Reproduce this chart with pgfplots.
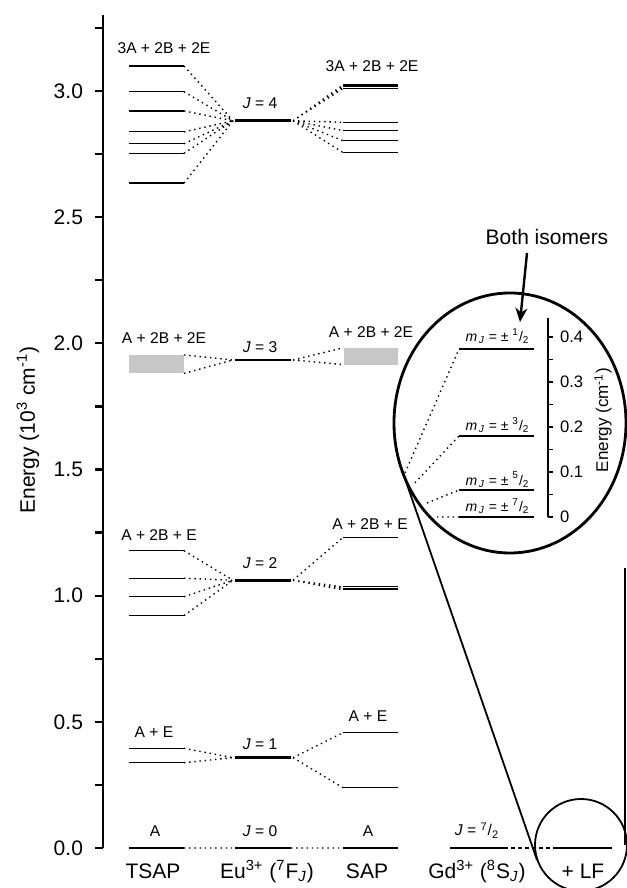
\documentclass[border=0pt]{standalone}
\usepackage{fontspec}
\setmainfont{Liberation Sans}
\usepackage{pgfplots}
\pgfplotsset{compat=1.18}
\usetikzlibrary{arrows.meta}

\pgfplotsset{
  lev/.style={black, line width=0.6pt},
  levthick/.style={black, line width=1.3pt},
  con/.style={black, line width=0.7pt, dash pattern=on 0.7pt off 1.9pt},
}
\newcommand{\lab}{\fontsize{7.8}{9}\selectfont}
\newcommand{\bigf}{\fontsize{10.5}{12}\selectfont}

\begin{document}
\begin{tikzpicture}
\begin{axis}[
  at={(0,0)}, anchor=south west,
  scale only axis, width=261.5pt, height=416.35pt,
  xmin=103, xmax=626, ymin=0, ymax=3.3,
  axis x line=none, axis y line*=left,
  axis line style={line width=1.4pt},
  xtick=\empty,
  ytick={0,0.5,1,1.5,2,2.5,3},
  minor ytick={0.25,0.75,1.25,1.75,2.25,2.75,3.25},
  tick align=outside,
  major tick length=4pt, minor tick length=4pt,
  tick style={line width=1.1pt, black},
  y tick label style={font=\bigf, xshift=-2.5pt},
  yticklabel style={/pgf/number format/fixed, /pgf/number format/fixed zerofill,
    /pgf/number format/precision=1, /pgf/number format/assume math mode=true},
  clip=false,
  unbounded coords=jump,
]
% grey bands (J = 3)
\addplot[fill=black!22, draw=none] coordinates {(129,1.881) (184,1.881) (184,1.954) (129,1.954)} -- cycle;
\addplot[fill=black!22, draw=none] coordinates {(344,1.916) (398,1.916) (398,1.982) (344,1.982)} -- cycle;

% thin crystal-field levels
\addplot[lev] coordinates {
 (129,3.099)(184,3.099) (nan,nan) (129,2.997)(184,2.997) (nan,nan)
 (129,2.921)(184,2.921) (nan,nan) (129,2.838)(184,2.838) (nan,nan)
 (129,2.791)(184,2.791) (nan,nan) (129,2.753)(184,2.753) (nan,nan)
 (129,2.635)(184,2.635) (nan,nan)
 (343,3.024)(398,3.024) (nan,nan) (343,3.017)(398,3.017) (nan,nan)
 (343,3.010)(398,3.010) (nan,nan) (343,2.876)(398,2.876) (nan,nan)
 (343,2.843)(398,2.843) (nan,nan) (343,2.803)(398,2.803) (nan,nan)
 (343,2.756)(398,2.756) (nan,nan)
 (129,1.178)(184,1.178) (nan,nan) (129,1.069)(184,1.069) (nan,nan)
 (129,0.996)(184,0.996) (nan,nan) (129,0.921)(184,0.921) (nan,nan)
 (343,1.231)(398,1.231) (nan,nan) (343,1.035)(398,1.035) (nan,nan)
 (343,1.029)(398,1.029) (nan,nan) (343,1.023)(398,1.023) (nan,nan)
 (129,0.395)(184,0.395) (nan,nan) (129,0.338)(184,0.338) (nan,nan)
 (343,0.457)(398,0.457) (nan,nan) (343,0.239)(398,0.239)
};

% free-ion levels and J = 0
\addplot[levthick] coordinates {
 (235,2.882)(291,2.882) (nan,nan) (235,1.934)(291,1.934) (nan,nan)
 (235,1.061)(291,1.061) (nan,nan) (235,0.358)(291,0.358) (nan,nan)
 (235,0)(291,0) (nan,nan) (129,0)(184,0) (nan,nan) (343,0)(398,0) (nan,nan)
 (450,0)(504,0) (nan,nan) (557,0)(612,0)
};

% dotted correlation lines
\addplot[con] coordinates {
 (184,3.099)(233,2.882) (nan,nan) (184,2.997)(233,2.882) (nan,nan)
 (184,2.921)(233,2.882) (nan,nan) (184,2.838)(233,2.882) (nan,nan)
 (184,2.791)(233,2.882) (nan,nan) (184,2.753)(233,2.882) (nan,nan)
 (184,2.635)(233,2.882) (nan,nan)
 (293,2.882)(343,3.024) (nan,nan) (293,2.882)(343,3.017) (nan,nan)
 (293,2.882)(343,3.010) (nan,nan) (293,2.882)(343,2.876) (nan,nan)
 (293,2.882)(343,2.843) (nan,nan) (293,2.882)(343,2.803) (nan,nan)
 (293,2.882)(343,2.756) (nan,nan)
 (184,1.954)(233,1.934) (nan,nan) (184,1.881)(233,1.934) (nan,nan)
 (293,1.934)(343,1.982) (nan,nan) (293,1.934)(343,1.916) (nan,nan)
 (184,1.178)(233,1.061) (nan,nan) (184,1.069)(233,1.061) (nan,nan)
 (184,0.996)(233,1.061) (nan,nan) (184,0.921)(233,1.061) (nan,nan)
 (293,1.061)(343,1.231) (nan,nan) (293,1.061)(343,1.035) (nan,nan)
 (293,1.061)(343,1.029) (nan,nan) (293,1.061)(343,1.023) (nan,nan)
 (184,0.395)(233,0.358) (nan,nan) (184,0.338)(233,0.358) (nan,nan)
 (293,0.358)(343,0.457) (nan,nan) (293,0.358)(343,0.239) (nan,nan)
 (184,0)(235,0) (nan,nan) (291,0)(343,0)
};
\addplot[black, line width=0.7pt, dash pattern=on 2pt off 1.5pt] coordinates {(504,0)(557,0)};

% level labels
\begin{scope}[every node/.style={anchor=base, font=\lab}]
\node at (axis cs:164,3.149) {3A + 2B + 2E};
\node at (axis cs:260,2.931) {\textit{J} = 4};
\node at (axis cs:372,3.077) {3A + 2B + 2E};
\node at (axis cs:164,2.000) {A + 2B + 2E};
\node at (axis cs:260,1.963) {\textit{J} = 3};
\node at (axis cs:371,2.024) {A + 2B + 2E};
\node at (axis cs:159,1.218) {A + 2B + E};
\node at (axis cs:260,1.108) {\textit{J} = 2};
\node at (axis cs:370,1.264) {A + 2B + E};
\node at (axis cs:154,0.437) {A + E};
\node at (axis cs:260,0.391) {\textit{J} = 1};
\node at (axis cs:368,0.503) {A + E};
\node at (axis cs:155,0.045) {A};
\node at (axis cs:260,0.045) {\textit{J} = 0};
\node at (axis cs:368,0.045) {A};
\node at (axis cs:477,0.048) {\textit{J} = \textsuperscript{7}/\textsubscript{2}};
\end{scope}

% column names
\begin{scope}[every node/.style={anchor=base, font=\bigf}]
\node at (axis cs:153,-0.119) {TSAP};
\node at (axis cs:267,-0.119) {Eu\textsuperscript{3+} (\textsuperscript{7}F\textsubscript{\textit{J}})};
\node at (axis cs:367,-0.119) {SAP};
\node at (axis cs:477,-0.119) {Gd\textsuperscript{3+} (\textsuperscript{8}S\textsubscript{\textit{J}})};
\node at (axis cs:583,-0.119) {+ LF};
\end{scope}
\node[rotate=90, font=\bigf] at (axis description cs:-0.1434,0.502) {Energy (10\textsuperscript{3} cm\textsuperscript{-1})};
\end{axis}

% inset: Gd3+ ground-state splitting
\begin{axis}[
  at={(146pt,165.5pt)}, anchor=south west,
  scale only axis, width=76.5pt, height=99.5pt,
  xmin=395, xmax=548, ymin=0, ymax=0.442,
  axis x line=none, axis y line*=right,
  axis line style={line width=0.7pt},
  xtick=\empty,
  ytick={0,0.1,0.2,0.3,0.4},
  minor ytick={0.05,0.15,0.25,0.35},
  tick align=outside,
  major tick length=2.5pt, minor tick length=2.5pt,
  tick style={line width=0.6pt, black},
  y tick label style={font=\fontsize{8.3}{9}\selectfont},
  yticklabel style={/pgf/number format/assume math mode=true},
  clip=false,
  unbounded coords=jump,
]
\addplot[lev] coordinates {(459,0.373)(534,0.373) (nan,nan) (459,0.18)(534,0.18) (nan,nan) (459,0.06)(534,0.06)};
\addplot[levthick] coordinates {(459,0)(534,0)};
\addplot[con] coordinates {(405,0.098)(459,0.373) (nan,nan) (415,0.076)(459,0.18) (nan,nan) (427,0.031)(459,0.06) (nan,nan) (437,0)(459,0)};
\begin{scope}[every node/.style={anchor=base, font=\fontsize{7}{8}\selectfont}]
\node at (axis cs:497.5,0.390) {\textit{m}\textsubscript{\,\textit{J}} = ± \textsuperscript{1}/\textsubscript{2}};
\node at (axis cs:497.5,0.193) {\textit{m}\textsubscript{\,\textit{J}} = ± \textsuperscript{3}/\textsubscript{2}};
\node at (axis cs:497.5,0.071) {\textit{m}\textsubscript{\,\textit{J}} = ± \textsuperscript{5}/\textsubscript{2}};
\node at (axis cs:497.5,0.012) {\textit{m}\textsubscript{\,\textit{J}} = ± \textsuperscript{7}/\textsubscript{2}};
\end{scope}
\node[rotate=90, font=\fontsize{8.5}{10}\selectfont] at (axis description cs:1.36,0.487) {Energy (cm\textsuperscript{-1})};
\end{axis}

% magnifier outline and arrow
\begin{scope}[x=0.5pt, y=-0.5pt, shift={(-51.5pt,424pt)}]
\draw[line width=1.4pt] (510,423) ellipse [x radius=58pt, y radius=65pt];
\draw[line width=0.9pt] (581,845) circle [radius=23pt];
\draw[line width=0.9pt] (402,470) -- (537,860);
\draw[line width=0.9pt] (625.3,568) -- (625.3,845);
\draw[line width=1.2pt, -{Stealth[length=7pt, width=6pt]}] (527,253) -- (520,322);
\node[anchor=base, font=\bigf] at (547,245) {Both isomers};
\end{scope}

\pgfresetboundingbox
\useasboundingbox (-51.5pt,-20pt) rectangle (261.5pt,424pt);
\end{tikzpicture}
\end{document}
